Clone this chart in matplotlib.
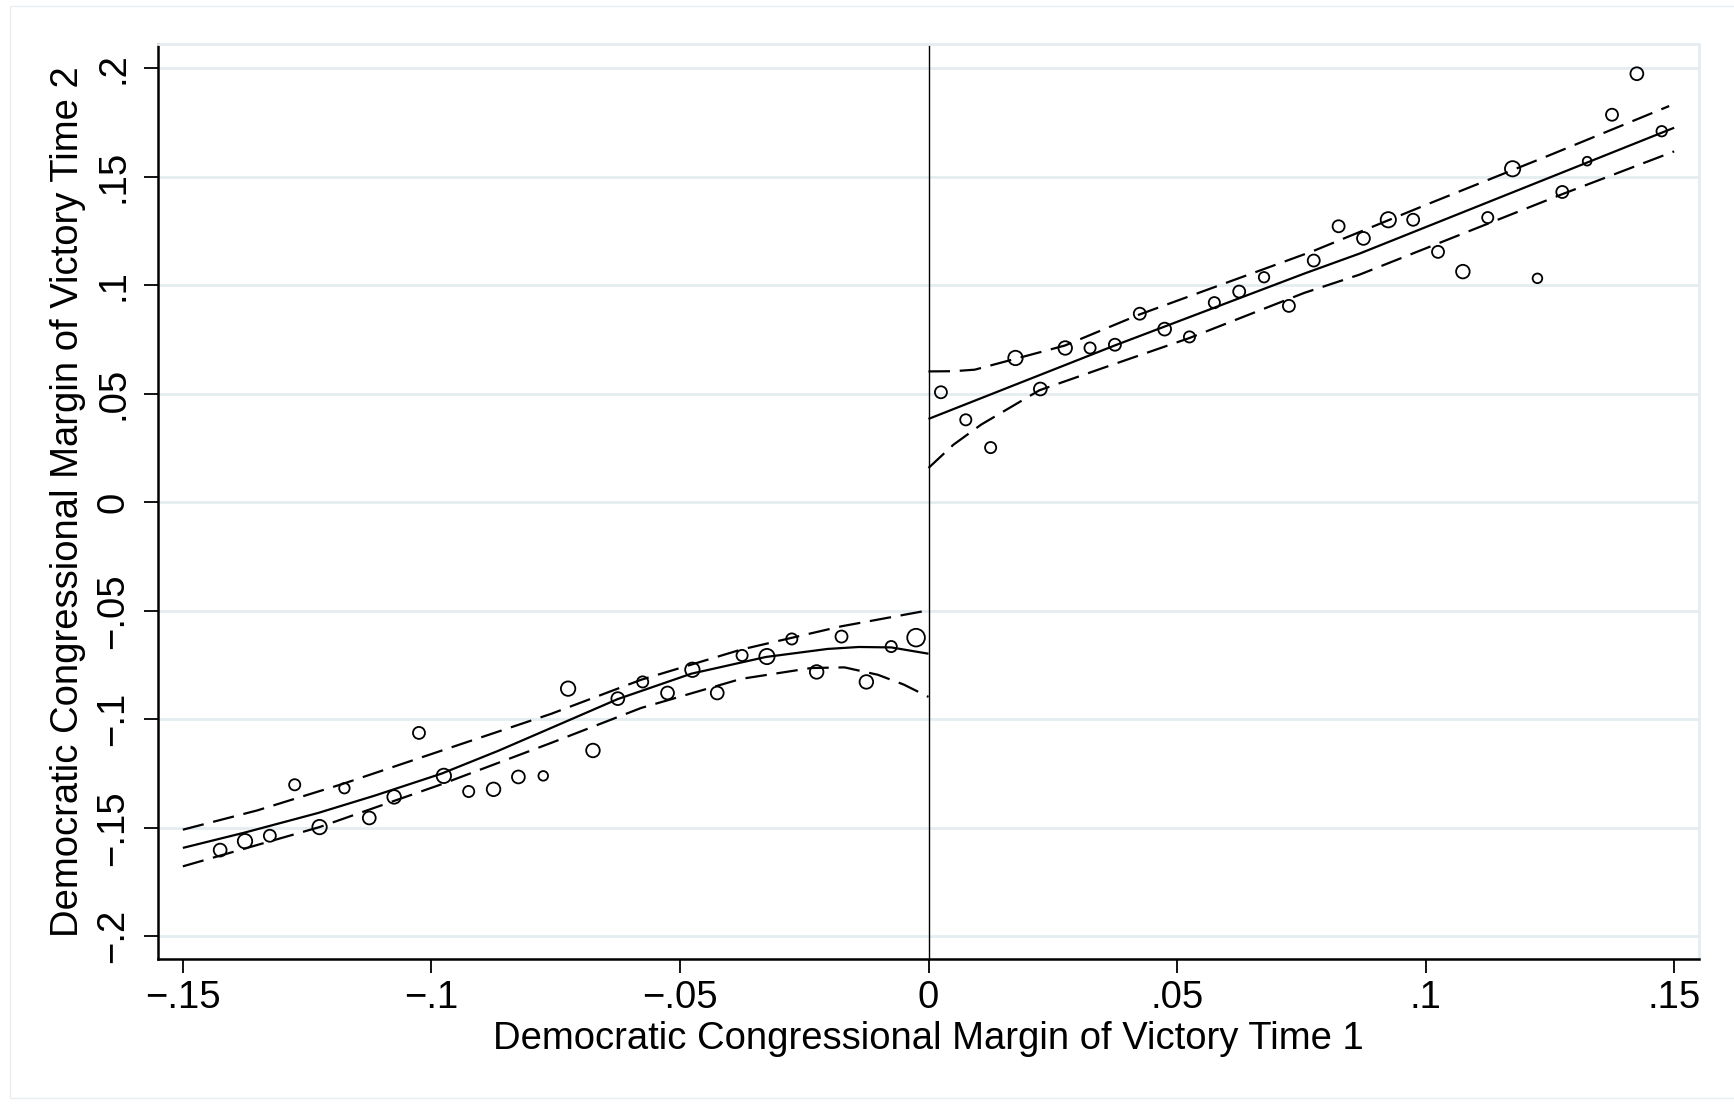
import matplotlib
matplotlib.use("Agg")
import matplotlib.pyplot as plt
from matplotlib.ticker import FixedLocator, FuncFormatter
from matplotlib.patches import Rectangle

# ---- binned means, left of threshold ----
left_x = [-0.1425, -0.1375, -0.1325, -0.1275, -0.1225, -0.1175, -0.1125, -0.1075,
          -0.1025, -0.0975, -0.0925, -0.0875, -0.0825, -0.0775, -0.0725, -0.0675,
          -0.0625, -0.0575, -0.0525, -0.0475, -0.0425, -0.0375, -0.0325, -0.0275,
          -0.0225, -0.0175, -0.0125, -0.0075, -0.0025]
left_y = [-0.1603, -0.1562, -0.1537, -0.1302, -0.1497, -0.1318, -0.1455, -0.1358,
          -0.1063, -0.1261, -0.1333, -0.1323, -0.1266, -0.1261, -0.0859, -0.1144,
          -0.0905, -0.0828, -0.0879, -0.0772, -0.0879, -0.0706, -0.0711, -0.0630,
          -0.0782, -0.0619, -0.0828, -0.0665, -0.0624]
left_w = [10.7, 12.0, 10.0, 9.3, 12.0, 8.7, 10.7, 11.3, 10.0, 12.0, 9.3, 11.3, 10.7,
          8.0, 12.0, 11.3, 10.7, 9.3, 10.7, 12.0, 10.7, 9.3, 12.7, 9.3, 11.3, 10.0,
          11.3, 9.3, 14.7]

# ---- binned means, right of threshold ----
right_x = [0.0025, 0.0075, 0.0125, 0.0175, 0.0225, 0.0275, 0.0325, 0.0375, 0.0425,
           0.0475, 0.0525, 0.0575, 0.0625, 0.0675, 0.0725, 0.0775, 0.0825, 0.0875,
           0.0925, 0.0975, 0.1025, 0.1075, 0.1125, 0.1175, 0.1225, 0.1275, 0.1325,
           0.1375, 0.1425, 0.1475]
right_y = [0.0507, 0.0380, 0.0252, 0.0665, 0.0522, 0.0711, 0.0711, 0.0726, 0.0869,
           0.0798, 0.0762, 0.0920, 0.0971, 0.1037, 0.0905, 0.1114, 0.1272, 0.1216,
           0.1302, 0.1302, 0.1154, 0.1063, 0.1312, 0.1537, 0.1032, 0.1430, 0.1572,
           0.1786, 0.1975, 0.1710]
right_w = [10.0, 9.3, 9.3, 12.0, 10.7, 11.3, 9.3, 10.0, 10.0, 10.7, 9.3, 9.3, 10.0,
           8.7, 10.0, 10.0, 10.0, 10.7, 12.7, 10.0, 10.0, 11.3, 9.3, 12.7, 8.0, 10.0,
           7.3, 10.0, 10.7, 8.7]

# ---- fitted curve and confidence bounds ----
left_fit_x = [-0.150, -0.1375, -0.1228, -0.1114, -0.098, -0.0865, -0.0759, -0.0625,
              -0.0477, -0.0327, -0.0203, -0.0140, -0.0075, 0.0]
left_fit_y = [-0.1593, -0.1522, -0.1432, -0.1352, -0.1251, -0.1145, -0.1040, -0.0907,
              -0.0790, -0.0713, -0.0676, -0.0667, -0.0669, -0.0698]
left_hi_x = [-0.150, -0.135, -0.1181, -0.098, -0.0759, -0.0578, -0.0377, -0.0176, 0.0]
left_hi_y = [-0.1509, -0.1420, -0.1300, -0.1145, -0.0975, -0.0818, -0.0679, -0.0572, -0.0498]
left_lo_x = [-0.150, -0.1225, -0.098, -0.0759, -0.0578, -0.0377, -0.0236, -0.0169,
             -0.0102, -0.005, 0.0]
left_lo_y = [-0.1678, -0.1497, -0.1300, -0.1109, -0.0948, -0.0814, -0.0764, -0.0761,
             -0.0795, -0.0840, -0.0897]

right_fit_x = [0.0, 0.0374, 0.0756, 0.0867, 0.150]
right_fit_y = [0.0384, 0.0722, 0.1054, 0.1146, 0.1726]
right_hi_x = [0.0, 0.005, 0.0093, 0.0173, 0.0274, 0.0424, 0.0773, 0.100, 0.125, 0.149]
right_hi_y = [0.0603, 0.0604, 0.0611, 0.0660, 0.0722, 0.0865, 0.1157, 0.1370, 0.1600, 0.1826]
right_lo_x = [0.0, 0.005, 0.0106, 0.0223, 0.035, 0.0525, 0.0756, 0.0867, 0.1275, 0.150]
right_lo_y = [0.0158, 0.0265, 0.0358, 0.0516, 0.0618, 0.0757, 0.0965, 0.1049, 0.1420, 0.1617]

x_ticks = [-0.15, -0.10, -0.05, 0.0, 0.05, 0.10, 0.15]
y_ticks = [-0.20, -0.15, -0.10, -0.05, 0.0, 0.05, 0.10, 0.15, 0.20]

x_label = "Democratic Congressional Margin of Victory Time 1"
y_label = "Democratic Congressional Margin of Victory Time 2"

FONT = ["Liberation Sans", "DejaVu Sans"]
GRID = "#e4edf0"
DPI = 100
W, H = 1734, 1104

fig = plt.figure(figsize=(W / DPI, H / DPI), dpi=DPI)
fig.patch.set_facecolor("white")
fig.patches.append(Rectangle((10 / W, 6 / H), 1.0, 1 - 12 / H, transform=fig.transFigure,
                             fill=False, edgecolor="#e8eef0", linewidth=1.0))

ax = fig.add_axes([158 / W, 1 - 959 / H, (1699 - 158) / W, (959 - 44) / H])
ax.set_xlim(-0.155, 0.155)
ax.set_ylim(-0.2105, 0.2112)

for yv in y_ticks:
    ax.axhline(yv, color=GRID, lw=2.0, zorder=0)

ax.axvline(0.0, color="black", lw=1.0, zorder=1)

MSCALE = 1.2


def px_to_s(d):
    return (d * MSCALE * 72.0 / DPI) ** 2


ax.scatter(left_x, left_y, s=[px_to_s(d) for d in left_w], facecolors="none",
           edgecolors="black", linewidths=1.3, zorder=3)
ax.scatter(right_x, right_y, s=[px_to_s(d) for d in right_w], facecolors="none",
           edgecolors="black", linewidths=1.3, zorder=3)

dash = (15.5, 7.0)
for fx, fy in [(left_fit_x, left_fit_y), (right_fit_x, right_fit_y)]:
    ax.plot(fx, fy, color="black", lw=1.6, zorder=2, solid_capstyle="butt",
            solid_joinstyle="round")
for fx, fy in [(left_hi_x, left_hi_y), (left_lo_x, left_lo_y),
               (right_hi_x, right_hi_y), (right_lo_x, right_lo_y)]:
    ln, = ax.plot(fx, fy, color="black", lw=1.6, zorder=2)
    ln.set_dashes([d / 1.6 for d in dash])


def fmt(v, pos=None):
    if abs(v) < 1e-9:
        return "0"
    s = ("%.2f" % abs(v)).rstrip("0")
    s = s.lstrip("0")
    return ("\u2212" if v < 0 else "") + s


ax.xaxis.set_major_locator(FixedLocator(x_ticks))
ax.yaxis.set_major_locator(FixedLocator(y_ticks))
ax.xaxis.set_major_formatter(FuncFormatter(fmt))
ax.yaxis.set_major_formatter(FuncFormatter(fmt))

ax.tick_params(axis="both", direction="out", length=10, width=1.3, color="black",
               labelsize=27.5, pad=5)
ax.tick_params(axis="y", pad=9)
for lab in ax.get_xticklabels():
    lab.set_family(FONT)
for lab in ax.get_yticklabels():
    lab.set_family(FONT)
    lab.set_rotation(90)
    lab.set_va("center")

for side in ["left", "bottom"]:
    ax.spines[side].set_color("black")
    ax.spines[side].set_linewidth(1.8)
for side in ["top", "right"]:
    ax.spines[side].set_color(GRID)
    ax.spines[side].set_linewidth(2.0)

ax.set_xlabel(x_label, fontsize=27.5, family=FONT, labelpad=4)
ax.set_ylabel(y_label, fontsize=27.5, family=FONT, labelpad=7)

fig.savefig("out.png", dpi=DPI, facecolor="white")
